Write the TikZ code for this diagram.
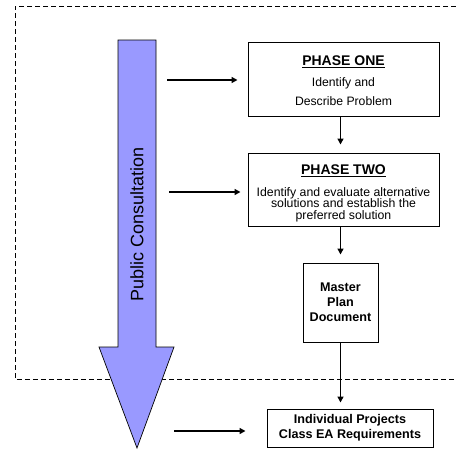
\documentclass[tikz,border=0pt]{standalone}
\usepackage{fontspec}
\setmainfont{Liberation Sans}
\usetikzlibrary{arrows.meta}
\definecolor{pcfill}{HTML}{9999FF}
\begin{document}
\begin{tikzpicture}[x=1pt,y=-1pt,
  box/.style={draw=black,line width=1pt,fill=white,inner sep=0pt},
  txt/.style={inner sep=0pt,align=center},
  conn/.style={line width=1.6pt,-{Triangle[length=6pt,width=6pt]}},
  frame/.style={line width=0.8pt,dash pattern=on 5pt off 3pt},
  bigarrow/.style={draw=black,line width=0.7pt,fill=pcfill}]
\useasboundingbox (0,0) rectangle (456,450);
% dashed frame
\draw[frame] (456,6) -- (15,6) -- (15,379) -- (456,379);
% public consultation arrow
\draw[bigarrow] (118,40) -- (156,40) -- (156,347) -- (174,347) -- (137,448) -- (99,347) -- (118,347) -- cycle;
\node[rotate=90,inner sep=0pt,font=\fontsize{18}{20}\selectfont] (pc) at (137,224.5) {Public Consultation};
% boxes
\node[box,minimum width=191pt,minimum height=74pt] (p1) at (343.5,79) {};
\node[txt,font=\fontsize{12.2}{19}\selectfont] (p1t) at (343.5,80.5)
  {{\fontsize{14}{16}\selectfont\bfseries\underline{PHASE ONE}}\\[2pt]Identify and\\Describe Problem};
\node[box,minimum width=191pt,minimum height=73pt] (p2) at (343.5,189.5) {};
\node[txt,font=\fontsize{12.3}{11.6}\selectfont] (p2t) at (343.5,193.5)
  {{\fontsize{14}{16}\selectfont\bfseries\underline{PHASE TWO}}\\[9.5pt]Identify and evaluate alternative\\solutions and establish the\\preferred solution};
\node[box,minimum width=75pt,minimum height=79pt,align=center,font=\fontsize{12.6}{15}\selectfont\bfseries] (mp) at (340.5,302.5) {Master\\Plan\\Document};
\node[box,minimum width=166pt,minimum height=38pt,align=center,font=\fontsize{12.6}{15}\selectfont\bfseries] (ip) at (350,428) {Individual Projects\\Class EA Requirements};
% free ends of horizontal arrows
\coordinate (h1) at (167,80);
\coordinate (h2) at (169,192);
\coordinate (h3) at (174,431);
\draw[conn,shorten >=10pt] (h1) -- (h1 -| p1.west);
\draw[conn,shorten >=7pt] (h2) -- (h2 -| p2.west);
\draw[conn,shorten >=21pt] (h3) -- (h3 -| ip.west);
% vertical arrows
\draw[conn,shorten >=8pt] (p1.south -| mp) -- (p2.north -| mp);
\draw[conn,shorten >=8pt] (p2.south -| mp) -- (mp.north);
\draw[conn,shorten >=6pt] (mp.south) -- (ip.north -| mp);
\end{tikzpicture}
\end{document}
